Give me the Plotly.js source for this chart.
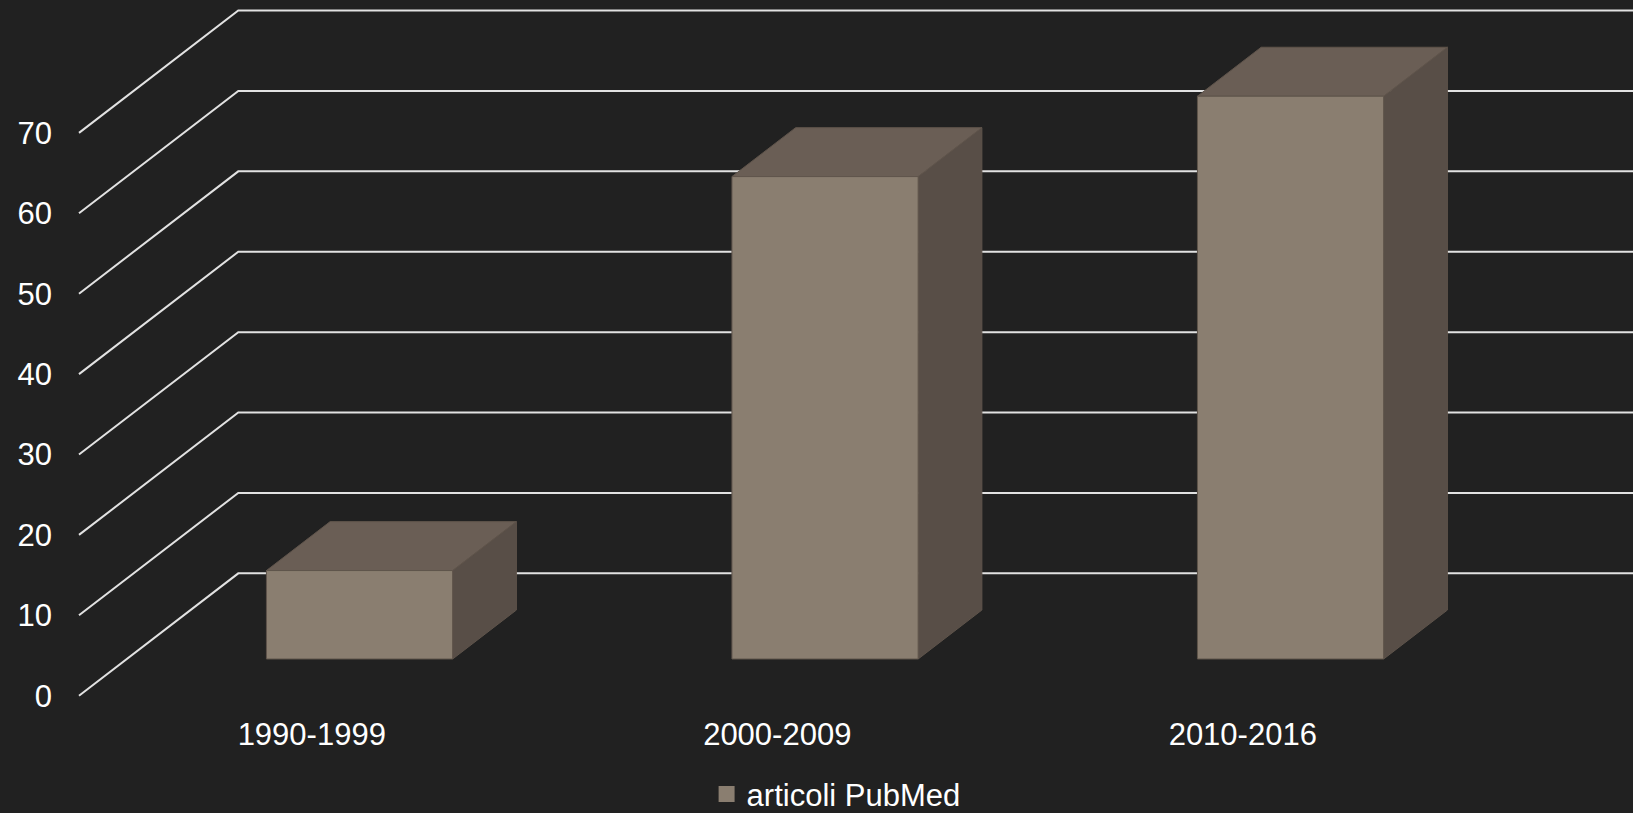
<!DOCTYPE html>
<html>
<head>
<meta charset="utf-8">
<script src="https://cdn.plot.ly/plotly-3.0.1.min.js"></script>
<style>
  html, body { margin: 0; padding: 0; background: #212121; }
  #chart { width: 1633px; height: 813px; }
</style>
</head>
<body>
<div id="chart"></div>
<script>
// ---- data ----
var categories = ["1990-1999", "2000-2009", "2010-2016"];
var values = [11, 60, 70];
var seriesName = "articoli PubMed";
var yTicks = [0, 10, 20, 30, 40, 50, 60, 70];

// ---- 3D oblique projection settings (in axis units) ----
var DX = 0.3422;   // depth shift along x (category units)
var DY = 15.22;    // depth shift along y (value units)
var barFront = 0.3, barBack = 0.7; // bar depth span as fraction of floor depth
var barHalf = 0.2;                 // half bar width (category units)

var gridColor = "#e2e2e2";
var frontColor = "#8a7e70", topColor = "#6a5e55", sideColor = "#584e47";
var edgeColor = "#5f544b";

var traces = [];

// gridlines: front-left diagonal + back wall horizontal
var nCat = categories.length;
yTicks.forEach(function (v) {
  traces.push({
    type: "scatter", mode: "lines",
    x: [0, DX, nCat + DX + 0.2],
    y: [v, v + DY, v + DY],
    line: { color: gridColor, width: 2 },
    hoverinfo: "skip", showlegend: false, cliponaxis: true
  });
});

function face(xs, ys, color) {
  traces.push({
    type: "scatter", mode: "lines", fill: "toself",
    x: xs.concat([xs[0]]), y: ys.concat([ys[0]]),
    fillcolor: color, line: { color: edgeColor, width: 1 },
    hoverinfo: "skip", showlegend: false
  });
}

categories.forEach(function (c, i) {
  var v = values[i];
  var cx = i + 0.5;
  var fx = barFront * DX, fy = barFront * DY;
  var bx = barBack * DX, by = barBack * DY;
  var x0 = cx - barHalf, x1 = cx + barHalf;
  // side face (right)
  face([x1 + fx, x1 + bx, x1 + bx, x1 + fx],
       [fy, by, v + by, v + fy], sideColor);
  // top face
  face([x0 + fx, x1 + fx, x1 + bx, x0 + bx],
       [v + fy, v + fy, v + by, v + by], topColor);
  // front face
  face([x0 + fx, x1 + fx, x1 + fx, x0 + fx],
       [fy, fy, v + fy, v + fy], frontColor);
});

// legend entry
traces.push({
  type: "scatter", mode: "markers", name: seriesName,
  x: [null], y: [null],
  marker: { symbol: "square", size: 17, color: frontColor },
  showlegend: true, hoverinfo: "skip"
});

var layout = {
  width: 1633, height: 813,
  paper_bgcolor: "#212121", plot_bgcolor: "#212121",
  margin: { l: 60, r: 0, t: 0, b: 100, autoexpand: false },
  font: { family: "Liberation Sans, Arial, sans-serif", size: 31, color: "#ffffff" },
  xaxis: {
    range: [-0.0408, 3.3383],
    tickmode: "array", tickvals: [0.5, 1.5, 2.5], ticktext: categories,
    showgrid: false, zeroline: false, showline: false, ticks: "",
    ticklabelstandoff: 0, fixedrange: true
  },
  yaxis: {
    range: [-2.15, 86.53],
    tickmode: "array", tickvals: yTicks, ticktext: yTicks.map(String),
    showgrid: false, zeroline: false, showline: false, ticks: "",
    ticklabelstandoff: 7, fixedrange: true
  },
  showlegend: true,
  legend: {
    orientation: "h", x: 0.512, xanchor: "center", xref: "container",
    y: -0.152, yanchor: "bottom", yref: "paper",
    font: { size: 31, color: "#ffffff" }, bgcolor: "rgba(0,0,0,0)",
    borderwidth: 0
  },
  hovermode: false
};

Plotly.newPlot("chart", traces, layout, { displayModeBar: false, staticPlot: true });
</script>
</body>
</html>
